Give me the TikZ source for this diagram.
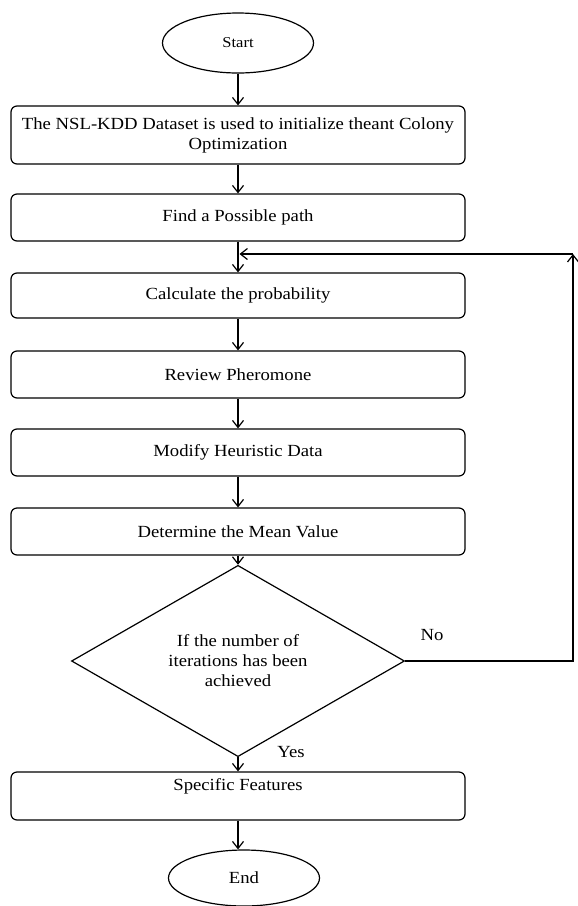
\documentclass[tikz,border=0pt]{standalone}
\usepackage{fontspec}
\setmainfont{Liberation Serif}[FakeStretch=1.1]
\usetikzlibrary{shapes.geometric,arrows.meta}
\begin{document}
\begin{tikzpicture}[x=1pt,y=-1pt,
  font=\fontsize{17}{20}\selectfont,
  box/.style={draw, rounded corners=6pt, minimum width=454pt, align=center, inner sep=0pt, line width=1.2pt},
  term/.style={draw, ellipse, minimum width=151pt, minimum height=60pt, inner sep=0pt, line width=1.2pt},
  dec/.style={draw, diamond, minimum width=333pt, minimum height=153pt, inner sep=0pt, align=center, line width=1.2pt},
  arr/.style={-{Straight Barb[length=7pt,width=11pt]}, line width=1.2pt}]
\useasboundingbox (0,0) rectangle (578,906);
\node[term, font=\fontsize{15}{18}\selectfont] (start) at (238,43) {Start};
\node[box, minimum height=58pt] (b1) at (238,135) {The NSL-KDD Dataset is used to initialize theant Colony\\Optimization};
\node[box, minimum height=47pt] (b2) at (238,217.5) {Find a Possible path};
\node[box, minimum height=45pt] (b3) at (238,295.5) {Calculate the probability};
\node[box, minimum height=47pt] (b4) at (238,374.5) {Review Pheromone};
\node[box, minimum height=47pt] (b5) at (238,452.5) {Modify Heuristic Data};
\node[box, minimum height=47pt] (b6) at (238,531.5) {Determine the Mean Value};
\node[dec] (d) at (238,661) {If the number of\\iterations has been\\achieved};
\node[box, minimum height=48pt] (b7) at (238,796) {Specific Features\\[-4pt]\strut};
\node[term, minimum height=56pt] (end) at (244,878) {End};
\node (no) at (432,635) {No};
\node (yes) at (291,752) {Yes};
\coordinate (c1) at (573,661);
\coordinate (c2) at (573,254);
\coordinate (j) at (239.5,254);
\draw[arr] (start) -- (b1);
\draw[arr] (b1) -- (b2);
\draw[arr] (b2) -- (b3);
\draw[arr] (b3) -- (b4);
\draw[arr] (b4) -- (b5);
\draw[arr] (b5) -- (b6);
\draw[arr] (b6) -- (d);
\draw[arr] (d) -- (b7);
\draw[arr] (b7.south) -- (b7.south |- end.north);
\draw[arr] (d.east) -- (c1) -- (c2);
\draw[arr] (c2) -- (j);
\end{tikzpicture}
\end{document}
